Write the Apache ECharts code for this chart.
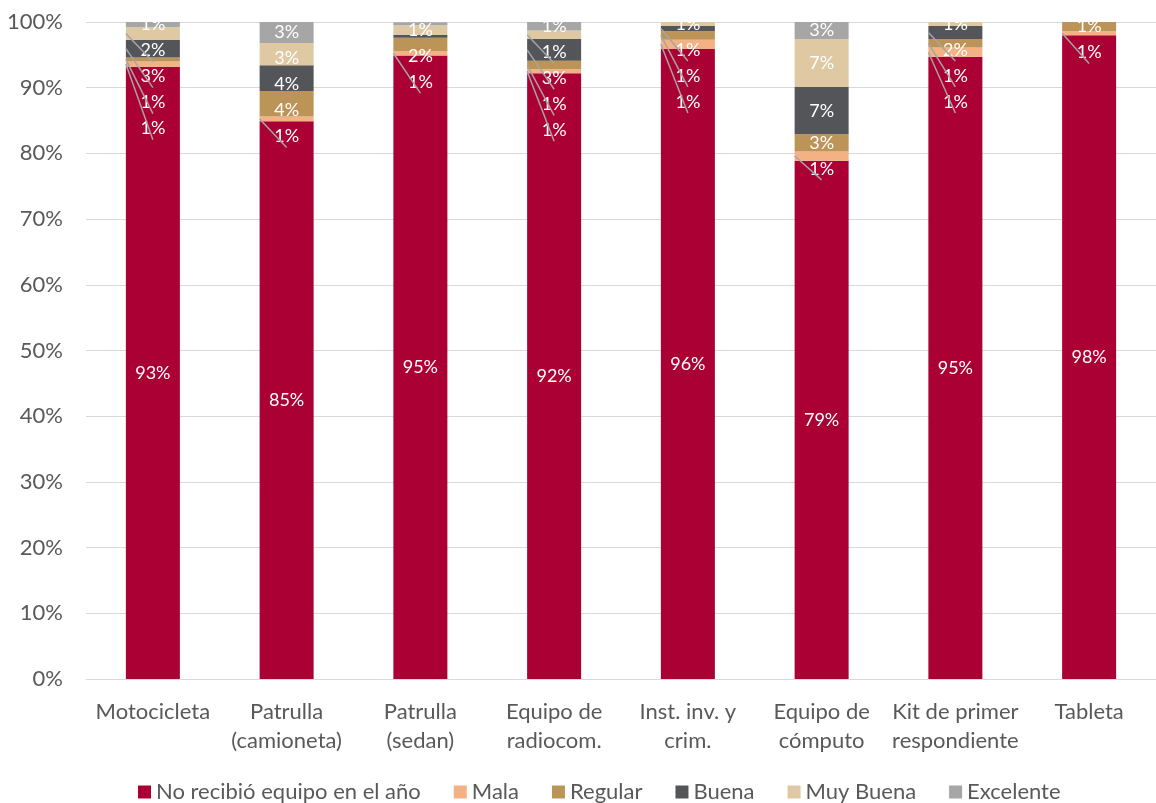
<!DOCTYPE html>
<html><head><meta charset="utf-8">
<script src="https://cdn.jsdelivr.net/npm/echarts@6/dist/echarts.min.js"></script>
<style>html,body{margin:0;padding:0;background:#fff}#c{width:1156px;height:803px}</style>
</head><body><div id="c"></div>
<script>
const categories = ['Motocicleta', 'Patrulla\n(camioneta)', 'Patrulla\n(sedan)', 'Equipo de\nradiocom.', 'Inst. inv. y\ncrim.', 'Equipo de\ncómputo', 'Kit de primer\nrespondiente', 'Tableta'];
const seriesNames = ['No recibió equipo en el año', 'Mala', 'Regular', 'Buena', 'Muy Buena', 'Excelente'];
const noRecibio = [93.2, 84.9, 94.9, 92.2, 95.9, 78.9, 94.7, 98.0];
const mala      = [0.8, 0.7, 0.7, 0.6, 1.4, 1.4, 1.4, 0.6];
const regular   = [0.6, 3.9, 2.0, 1.3, 1.3, 2.6, 1.3, 1.4];
const buena     = [2.7, 3.9, 0.45, 3.3, 0.8, 7.2, 2.0, 0];
const muyBuena  = [1.9, 3.4, 1.45, 1.3, 0.6, 7.3, 0.6, 0];
const excelente = [0.8, 3.2, 0.45, 1.3, 0, 2.6, 0, 0];
const yTicks = [0, 10, 20, 30, 40, 50, 60, 70, 80, 90, 100];

const seriesData = [noRecibio, mala, regular, buena, muyBuena, excelente];
const colors = ['#AB0033', '#F4B183', '#BD9457', '#545559', '#DEC9A2', '#A6A6A6'];
const FONT = 'Lato';
const SPACING = 26;
const BAR_W = 54;

const chart = echarts.init(document.getElementById('c'), null, {renderer: 'canvas'});
const cache = {};
function layoutFor(di) {
  if (cache[di]) return cache[di];
  const res = {};
  let cum = 0; const centers = [];
  for (let s = 0; s < seriesData.length; s++) { const v = seriesData[s][di]; centers.push(cum + v / 2); cum += v; }
  let prev = -Infinity;
  for (let s = seriesData.length - 1; s >= 1; s--) {
    const v = seriesData[s][di];
    if (v < 0.5) continue;
    const cy = chart.convertToPixel({yAxisIndex: 0}, centers[s]);
    const y = Math.max(cy, prev + SPACING);
    res[s] = {cy: cy, y: y};
    prev = y;
  }
  cache[di] = res;
  return res;
}

const series = seriesNames.map((name, s) => ({
  name: name,
  type: 'bar',
  stack: 'total',
  barWidth: BAR_W,
  data: seriesData[s],
  itemStyle: {color: colors[s]},
  label: {
    show: true,
    position: 'inside',
    color: '#ffffff',
    fontFamily: FONT,
    fontSize: 18,
    formatter: p => (p.value < 0.5 ? '' : Math.round(p.value) + '%')
  },
  labelLayout: s === 0 ? null : function (params) {
    const pos = layoutFor(params.dataIndex)[s];
    const r = params.rect;
    if (!pos) return {};
    return {x: r.x + r.width / 2, y: pos.y, align: 'center', verticalAlign: 'middle'};
  }
}));

chart.setOption({
  animation: false,
  textStyle: {fontFamily: FONT},
  grid: {left: 86, right: -17, top: 22, bottom: 124, containLabel: false},
  legend: {
    data: seriesNames,
    left: 133, top: 776,
    icon: 'rect', itemWidth: 13, itemHeight: 13, itemGap: 33,
    textStyle: {fontFamily: FONT, fontSize: 22, color: '#595959'}
  },
  xAxis: {
    type: 'category',
    data: categories,
    axisLine: {lineStyle: {color: '#D9D9D9', width: 1}},
    axisTick: {show: false},
    axisLabel: {fontFamily: FONT, fontSize: 22, color: '#595959', margin: 18, lineHeight: 29, interval: 0}
  },
  yAxis: {
    type: 'value',
    min: yTicks[0], max: yTicks[yTicks.length - 1], interval: yTicks[1] - yTicks[0],
    axisLine: {show: false}, axisTick: {show: false},
    splitLine: {lineStyle: {color: '#D9D9D9', width: 1}},
    axisLabel: {fontFamily: FONT, fontSize: 22, color: '#595959', margin: 23, formatter: '{value}%'}
  },
  series: series
});

// leader lines for labels displaced from their segments (computed from data via the axes)
const lines = [];
categories.forEach((c, di) => {
  const lay = layoutFor(di);
  const cx = chart.convertToPixel({xAxisIndex: 0}, di);
  Object.keys(lay).forEach(k => {
    const p = lay[k];
    if (p.y - p.cy > 12) {
      lines.push({
        type: 'line', z: 100, silent: true,
        shape: {x1: cx - BAR_W / 2, y1: p.cy, x2: cx, y2: p.y + 11},
        style: {stroke: '#A5A5A5', lineWidth: 1.5}
      });
    }
  });
});
chart.setOption({graphic: {elements: lines}});
</script>
</body></html>
